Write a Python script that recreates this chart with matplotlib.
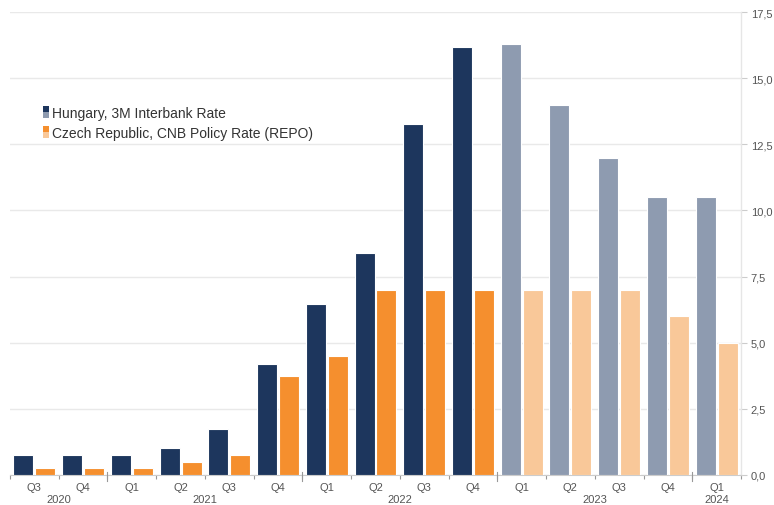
import matplotlib
matplotlib.use("Agg")
import matplotlib.pyplot as plt
from matplotlib.patches import Rectangle
from matplotlib.legend_handler import HandlerBase
import matplotlib.transforms as mtransforms
import numpy as np

plt.rcParams['font.family'] = ['Liberation Sans', 'DejaVu Sans']

quarters = ["Q3", "Q4", "Q1", "Q2", "Q3", "Q4", "Q1", "Q2", "Q3", "Q4", "Q1", "Q2", "Q3", "Q4", "Q1"]
years = ["2020", "2020", "2021", "2021", "2021", "2021", "2022", "2022", "2022", "2022",
         "2023", "2023", "2023", "2023", "2024"]
hungary = [0.77, 0.75, 0.77, 1.02, 1.75, 4.2, 6.47, 8.4, 13.28, 16.18, 16.3, 14.0, 12.0, 10.5, 10.5]
czech = [0.25, 0.25, 0.25, 0.5, 0.75, 3.75, 4.5, 7.0, 7.0, 7.0, 7.0, 7.0, 7.0, 6.0, 5.0]
is_forecast = [False] * 10 + [True] * 5
yticks = [0.0, 2.5, 5.0, 7.5, 10.0, 12.5, 15.0, 17.5]

navy, navy_l = "#1d365d", "#8e9bb0"
orange, orange_l = "#f58f2e", "#f9c899"

fig = plt.figure(figsize=(7.74, 5.06), dpi=100)
ax = fig.add_axes([10 / 774, 30 / 506, 731 / 774, 463 / 506])

x = np.arange(len(quarters))
w = 0.41
hc = [navy_l if f else navy for f in is_forecast]
cc = [orange_l if f else orange for f in is_forecast]
ax.bar(x - w / 2 - 0.02, hungary, width=w, color=hc, edgecolor="white", linewidth=0.8, zorder=3)
ax.bar(x + w / 2 + 0.02, czech, width=w, color=cc, edgecolor="white", linewidth=0.8, zorder=3)

ax.set_xlim(-0.5, len(quarters) - 0.5)
ax.set_ylim(0, 17.5)

# y axis on right
ax.yaxis.tick_right()
ax.set_yticks(yticks)
ax.set_yticklabels([f"{v:.1f}".replace(".", ",") for v in yticks])
ax.tick_params(axis="y", length=4, width=0.8, color="#cccccc", labelcolor="#555555",
               labelsize=8, pad=3)
ax.grid(axis="y", color="#e9e9e9", linewidth=1.0, zorder=0)

for s in ["top", "left"]:
    ax.spines[s].set_visible(False)
ax.spines["right"].set_color("#e6e6e6")
ax.spines["right"].set_linewidth(1.0)
ax.spines["bottom"].set_color("#cccccc")
ax.spines["bottom"].set_linewidth(0.8)

# x axis: quarter labels at centers, ticks at boundaries
ax.set_xticks(x)
ax.set_xticklabels(quarters)
ax.tick_params(axis="x", length=0, labelsize=8, labelcolor="#555555", pad=5)
bounds = np.arange(-0.5, len(quarters), 1.0)
ax.set_xticks(bounds, minor=True)
ax.tick_params(axis="x", which="minor", length=3, width=0.8, color="#999999")

# year boundaries (longer ticks) and year labels
trans = mtransforms.blended_transform_factory(ax.transData, ax.transAxes)
year_list = []
for y in years:
    if y not in year_list:
        year_list.append(y)
for yr in year_list:
    idx = [i for i, yy in enumerate(years) if yy == yr]
    cx = (idx[0] + idx[-1]) / 2
    ax.text(cx, -24.5 / 463, yr, transform=trans, ha="center", va="center", fontsize=8,
            color="#555555", clip_on=False)
    b = idx[0] - 0.5
    if idx[0] > 0:
        ax.plot([b, b], [-0.012, 0.006], transform=trans, color="#999999", lw=0.8,
                clip_on=False, zorder=4)


# legend with split squares
class SplitHandler(HandlerBase):
    def __init__(self, c1, c2):
        super().__init__()
        self.c1, self.c2 = c1, c2

    def create_artists(self, legend, orig_handle, xdescent, ydescent, width, height,
                       fontsize, trans):
        hgt = height * 1.25
        wd = hgt * 0.5
        x0 = -xdescent + width - wd
        y0 = -ydescent - (hgt - height) / 2
        r1 = Rectangle((x0, y0 + hgt / 2), wd, hgt / 2, facecolor=self.c1,
                       edgecolor="none", transform=trans)
        r2 = Rectangle((x0, y0), wd, hgt / 2, facecolor=self.c2,
                       edgecolor="none", transform=trans)
        return [r1, r2]


h1 = Rectangle((0, 0), 1, 1)
h2 = Rectangle((0, 0), 1, 1)
leg = ax.legend([h1, h2], ["Hungary, 3M Interbank Rate", "Czech Republic, CNB Policy Rate (REPO)"],
                handler_map={h1: SplitHandler(navy, navy_l), h2: SplitHandler(orange, orange_l)},
                loc="upper left", bbox_to_anchor=(0.044, 0.798), frameon=False,
                fontsize=10, handlelength=0.5, handletextpad=0.2, labelspacing=0.45,
                borderaxespad=0, borderpad=0)
for t in leg.get_texts():
    t.set_color("#333333")

fig.savefig("out.png", dpi=100)
